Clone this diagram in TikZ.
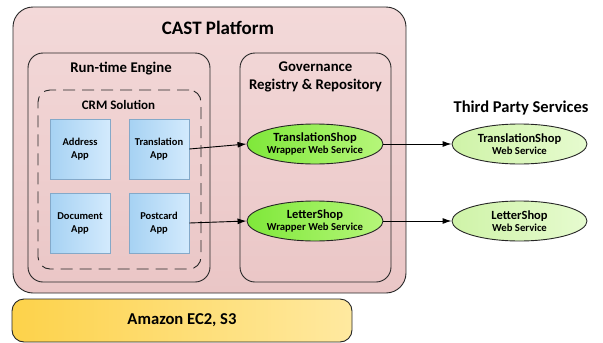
\documentclass[tikz,border=0pt]{standalone}
\usepackage{fontspec}
\setmainfont{Carlito}
\usetikzlibrary{shapes.geometric,arrows.meta}
\definecolor{pinkA}{HTML}{F3D9D9}
\definecolor{pinkB}{HTML}{EAC6C6}
\definecolor{blueA}{HTML}{A6D2F3}
\definecolor{blueB}{HTML}{D3EAFD}
\definecolor{blueEdge}{HTML}{84A9C9}
\definecolor{greenA}{HTML}{7FE83A}
\definecolor{greenB}{HTML}{B6F67A}
\definecolor{lgreenA}{HTML}{CFF3A8}
\definecolor{lgreenB}{HTML}{E6FBCF}
\definecolor{yelA}{HTML}{FDD24A}
\definecolor{yelB}{HTML}{FFE9A0}
\definecolor{edge}{HTML}{262626}
\tikzset{
  panel/.style={draw=edge, line width=0.9pt, top color=pinkA, bottom color=pinkB, inner sep=0pt},
  inpanel/.style={draw=edge, line width=0.9pt, inner sep=0pt},
  crmbox/.style={draw=edge, line width=0.9pt, dash pattern=on 12pt off 7pt, rounded corners=12pt, inner sep=0pt},
  appbox/.style={draw=blueEdge, line width=0.7pt, left color=blueA, right color=blueB, minimum width=60pt, minimum height=60pt, inner sep=0pt, align=center, font=\fontsize{10.5}{13}\selectfont\bfseries},
  wrapsvc/.style={ellipse, draw=edge, line width=0.9pt, left color=greenA, right color=greenB, minimum width=136pt, minimum height=40pt, inner sep=0pt, align=center},
  extsvc/.style={ellipse, draw=edge, line width=0.9pt, left color=lgreenA, right color=lgreenB, minimum width=135pt, minimum height=40pt, inner sep=0pt, align=center},
  title/.style={inner sep=0pt, align=center},
  flow/.style={draw=black, line width=0.9pt, -{Latex[length=9pt,width=6pt]}}
}
\newcommand{\svcname}[1]{{\fontsize{12.5}{14}\selectfont #1}}
\newcommand{\svcsub}[1]{{\fontsize{10.7}{13}\selectfont #1}}
\begin{document}
\begin{tikzpicture}[x=1pt,y=-1pt,font=\bfseries]
\useasboundingbox (0,0) rectangle (603,343);
% platform
\node[panel, rounded corners=20pt, minimum width=393pt, minimum height=286pt] (cast) at (209.5,150) {};
\node[title, font=\fontsize{19}{21}\selectfont\bfseries] (casttitle) at (218,28) {CAST Platform};
% runtime engine
\node[inpanel, rounded corners=15pt, minimum width=182pt, minimum height=229pt] (runtime) at (119,167.5) {};
\node[title, font=\fontsize{14.8}{17}\selectfont\bfseries] (rttitle) at (121,69) {Run-time Engine};
% CRM
\node[crmbox, minimum width=163pt, minimum height=179pt] (crm) at (119.5,179.5) {};
\node[title, font=\fontsize{13}{15}\selectfont\bfseries] (crmtitle) at (118.5,105) {CRM Solution};
% apps
\node[appbox] (address) at (80,149) {Address\\App};
\node[appbox] (translation) at (159,149) {Translation\\App};
\node[appbox] (document) at (80,223) {Document\\App};
\node[appbox] (postcard) at (159,223) {Postcard\\App};
% governance
\node[inpanel, rounded corners=15pt, minimum width=151pt, minimum height=229pt] (gov) at (315.5,167.5) {};
\node[title, font=\fontsize{14.8}{18}\selectfont\bfseries] (govtitle) at (315.5,77) {Governance\\Registry \& Repository};
% wrappers
\node[wrapsvc] (tsw) at (315,144) {\svcname{TranslationShop}\\\svcsub{Wrapper Web Service}};
\node[wrapsvc] (lsw) at (315,221) {\svcname{LetterShop}\\\svcsub{Wrapper Web Service}};
% third party
\node[title, font=\fontsize{16.5}{18}\selectfont\bfseries] (tptitle) at (521,108) {Third Party Services};
\node[extsvc] (ts) at (519.5,144) {\svcname{TranslationShop}\\\svcsub{Web Service}};
\node[extsvc] (ls) at (519.5,221) {\svcname{LetterShop}\\\svcsub{Web Service}};
% amazon
\node[draw=edge, line width=0.9pt, rounded corners=12pt, left color=yelA, right color=yelB, minimum width=340pt, minimum height=43pt, inner sep=0pt, font=\fontsize{16.6}{18}\selectfont\bfseries] (amazon) at (182,320.5) {Amazon EC2, S3};
% connectors
\draw[flow] (translation.east) -- (tsw.west);
\draw[flow] (postcard.east) -- (lsw.west);
\draw[flow] (tsw.east) -- (ts.west);
\draw[flow] (lsw.east) -- (ls.west);
\end{tikzpicture}
\end{document}
